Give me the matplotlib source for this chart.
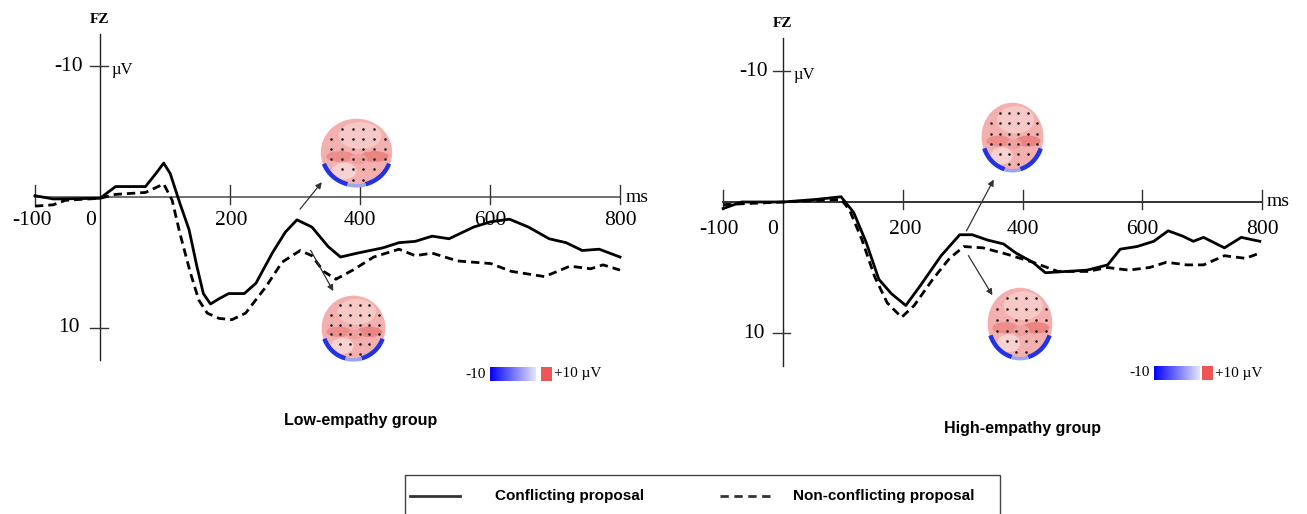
import numpy as np
import matplotlib.pyplot as plt
from matplotlib.patches import Ellipse, Arc, Rectangle
from matplotlib.lines import Line2D

W, H = 1307, 514

# ERP at FZ, time in ms, amplitude in uV (negative plotted upwards)
low_t_con = [-100, -72, 0, 24, 70, 86, 98, 108, 123, 137, 149, 159, 170, 183, 198, 222, 240, 265,
             285, 303, 326, 351, 370, 396, 435, 460, 485, 511, 537, 575, 601, 630, 659, 691, 717,
             742, 768, 800]
low_con = [-0.1, 0.15, 0.1, -0.8, -0.8, -1.8, -2.6, -1.8, 0.5, 2.5, 5.3, 7.4, 8.2, 7.8, 7.4, 7.4,
           6.6, 4.3, 2.7, 1.75, 2.3, 3.8, 4.6, 4.3, 3.9, 3.5, 3.4, 3.0, 3.2, 2.3, 1.9, 1.7, 2.3,
           3.2, 3.5, 4.1, 4.0, 4.6]
low_t_non = [-100, -72, -53, 0, 24, 70, 98, 111, 123, 139, 152, 165, 183, 203, 224, 255, 280, 308,
             326, 344, 363, 389, 421, 460, 485, 511, 550, 601, 633, 684, 723, 755, 774, 800]
low_non = [0.7, 0.6, 0.25, 0.1, -0.2, -0.35, -1.0, 0.25, 2.8, 5.8, 7.9, 8.9, 9.3, 9.4, 8.9, 6.9,
           5.0, 4.1, 4.5, 5.7, 6.3, 5.6, 4.6, 4.0, 4.5, 4.3, 4.9, 5.1, 5.7, 6.1, 5.3, 5.5, 5.2, 5.6]

high_t_con = [-100, -69, 0, 56, 97, 118, 139, 160, 181, 205, 229, 264, 295, 316, 341, 368, 389, 417,
              438, 473, 508, 542, 563, 591, 619, 643, 667, 685, 702, 737, 765, 796]
high_con = [0.5, 0.0, 0.0, -0.2, -0.4, 0.8, 3.1, 5.9, 7.0, 7.9, 6.4, 4.1, 2.5, 2.5, 2.9, 3.2, 3.9, 4.6,
            5.4, 5.3, 5.2, 4.8, 3.6, 3.4, 3.0, 2.2, 2.6, 3.0, 2.7, 3.5, 2.7, 3.0]
high_t_non = [-100, 0, 97, 111, 132, 153, 174, 198, 219, 250, 278, 302, 334, 375, 417, 459, 508, 542,
              577, 612, 640, 674, 702, 737, 772, 796]
high_non = [0.2, 0.0, -0.2, 0.6, 2.9, 5.7, 7.7, 8.8, 7.9, 5.9, 4.3, 3.4, 3.5, 4.0, 4.6, 5.3, 5.3, 5.0,
            5.2, 5.0, 4.6, 4.8, 4.8, 4.1, 4.3, 3.9]

x_ticks = [-100, 0, 200, 400, 600, 800]
x_tick_labels = ['-100', '0', '200', '400', '600', '800']
y_ticks = [-10, 10]
y_tick_labels = ['-10', '10']
group_titles = ['Low-empathy group', 'High-empathy group']
legend_labels = ['Conflicting proposal', 'Non-conflicting proposal']

SERIF = 'Liberation Serif'
SANS = 'Liberation Sans'

fig = plt.figure(figsize=(W / 100, H / 100), dpi=100)
fig.patch.set_facecolor('white')


def px_axes(x0, x1, y0, y1):
    # x0..x1, y0..y1 in image pixels (y from top)
    return fig.add_axes([x0 / W, 1 - y1 / H, (x1 - x0) / W, (y1 - y0) / H])


def panel(zero_x, px_ms, zero_y, px_uv, t_con, con, t_non, non, lab_y, lab_x_shift, axis_col):
    ax = px_axes(zero_x - 160 * px_ms, zero_x + 860 * px_ms,
                 zero_y - 14 * px_uv, zero_y + 14 * px_uv)
    ax.set_xlim(-160, 860)
    ax.set_ylim(14, -14)
    ax.axis('off')
    ax.plot([-100, 800], [0, 0], color=axis_col, lw=1.3)
    ax.plot([0, 0], [-12.5, 12.5], color='#222222', lw=1.0)
    for t in x_ticks:
        if t != 0:
            ax.plot([t, t], [-0.9, 0.5], color='#333333', lw=1.0)
    for v in y_ticks:
        ax.plot([-16, 12], [v, v], color='#333333', lw=1.0)
    for t, lab in zip(x_ticks, x_tick_labels):
        ax.text(t + lab_x_shift.get(t, 0), lab_y, lab, ha='center', va='center',
                fontsize=15.5, family=SERIF)
    for v, lab in zip(y_ticks, y_tick_labels):
        ax.text(-26 if v < 0 else -31, v, lab, ha='right', va='center', fontsize=15.5, family=SERIF)
    ax.text(17, -9.7, 'µV', ha='left', va='center', fontsize=12, family=SERIF)
    ax.text(0, -13.6, 'FZ', ha='center', va='center', fontsize=11, family=SERIF, weight='bold')
    ax.text(808, 0, 'ms', ha='left', va='center', fontsize=14, family=SERIF)
    ax.plot(t_con, con, color='black', lw=2.0, solid_joinstyle='round')
    ax.plot(t_non, non, color='black', lw=2.0, dashes=(3, 1.8))
    return ax


axL = panel(100, 0.65, 197, 13.05, low_t_con, low_con, low_t_non, low_non, 1.8,
            {-100: -5, 0: -14, 200: 2}, '#666666')
axR = panel(783, 0.599, 202, 13.1, high_t_con, high_con, high_t_non, high_non, 2.1,
            {-100: -7, 0: -17, 200: 4}, '#222222')

arrow_kw = dict(arrowstyle='-|>', color='#333333', lw=0.9, mutation_scale=9)
axL.annotate('', xy=(344, -1.3), xytext=(305, 1.1), arrowprops=arrow_kw)
axL.annotate('', xy=(361, 7.4), xytext=(322, 3.9), arrowprops=arrow_kw)
axR.annotate('', xy=(354, -1.9), xytext=(304, 2.4), arrowprops=arrow_kw)
axR.annotate('', xy=(352, 7.3), xytext=(307, 3.9), arrowprops=arrow_kw)


def head(x0, x1, y0, y1):
    a = px_axes(x0, x1, y0, y1)
    a.set_xlim(-1.05, 1.05)
    a.set_ylim(-1.05, 1.05)
    a.axis('off')
    base = Ellipse((0, 0), 2, 2, facecolor='#f3b0ae', edgecolor='none')
    a.add_patch(base)
    for (cx, cy, w, h, c) in [(0.1, 0.5, 1.2, 0.8, '#f6c8c6'), (-0.35, -0.55, 0.7, 0.5, '#f7d2d0'),
                              (-0.45, -0.12, 0.8, 0.32, '#ee8e8c'), (0.5, -0.12, 0.8, 0.32, '#ec8482'),
                              (0.05, -0.2, 0.5, 0.3, '#f0a09e')]:
        p = Ellipse((cx, cy), w, h, facecolor=c, edgecolor='none')
        a.add_patch(p)
        p.set_clip_path(base)
    a.add_patch(Arc((0, 0), 1.94, 1.94, theta1=200, theta2=255, color='#2233e6', lw=3.2))
    a.add_patch(Arc((0, 0), 1.94, 1.94, theta1=285, theta2=340, color='#2233e6', lw=3.2))
    a.add_patch(Arc((0, 0), 1.97, 1.97, theta1=255, theta2=285, color='#9aa6f2', lw=2.5))
    gx, gy = np.meshgrid(np.linspace(-0.75, 0.75, 6), np.linspace(-0.8, 0.7, 6))
    inside = gx ** 2 + gy ** 2 < 0.75
    a.scatter(gx[inside] + 0.04, gy[inside], s=0.8, color='#222222')


head(319, 394, 117, 188)
head(320, 387, 294, 362)
head(980, 1045, 101, 173)
head(986, 1054, 286, 361)


def colorbar(lab_right, b0, b1, r0, r1, text_left, yc):
    grad = np.linspace(0, 1, 256).reshape(1, -1)
    cmap = plt.matplotlib.colors.LinearSegmentedColormap.from_list('bw', ['#0000ff', '#e6e6fb'])
    cb = px_axes(b0, b1, yc - 7, yc + 7)
    cb.imshow(grad, aspect='auto', cmap=cmap)
    cb.axis('off')
    rd = px_axes(r0, r1, yc - 7, yc + 7)
    rd.set_facecolor('#f05555')
    rd.set_xticks([])
    rd.set_yticks([])
    for s in rd.spines.values():
        s.set_visible(False)
    fig.text(lab_right / W, 1 - yc / H, '-10', ha='right', va='center', fontsize=11, family=SERIF)
    fig.text(text_left / W, 1 - yc / H, '+10 µV', ha='left', va='center', fontsize=11, family=SERIF)


colorbar(486, 490, 536, 541, 552, 554, 374)
colorbar(1150, 1154, 1200, 1202, 1213, 1215, 373)

fig.text(361 / W, 1 - 421 / H, group_titles[0], ha='center', va='center',
         fontsize=11.5, family=SANS, weight='bold')
fig.text(1022 / W, 1 - 428 / H, group_titles[1], ha='center', va='center',
         fontsize=11.5, family=SANS, weight='bold')

# legend box (runs off the bottom edge)
fig.patches.append(Rectangle((405 / W, -0.02), 595 / W, (514 - 475) / H + 0.02,
                             transform=fig.transFigure, facecolor='white',
                             edgecolor='#444444', lw=1.0))
ly = 1 - 496 / H
fig.lines.append(Line2D([410 / W, 460 / W], [ly, ly], transform=fig.transFigure,
                        color='#333333', lw=2.0))
fig.lines.append(Line2D([720 / W, 775 / W], [ly, ly], transform=fig.transFigure,
                        color='#333333', lw=2.0, dashes=(3, 2)))
fig.text(495 / W, ly, legend_labels[0], ha='left', va='center', fontsize=11,
         family=SANS, weight='bold')
fig.text(793 / W, ly, legend_labels[1], ha='left', va='center', fontsize=11,
         family=SANS, weight='bold')

fig.savefig('out.png', dpi=100)
